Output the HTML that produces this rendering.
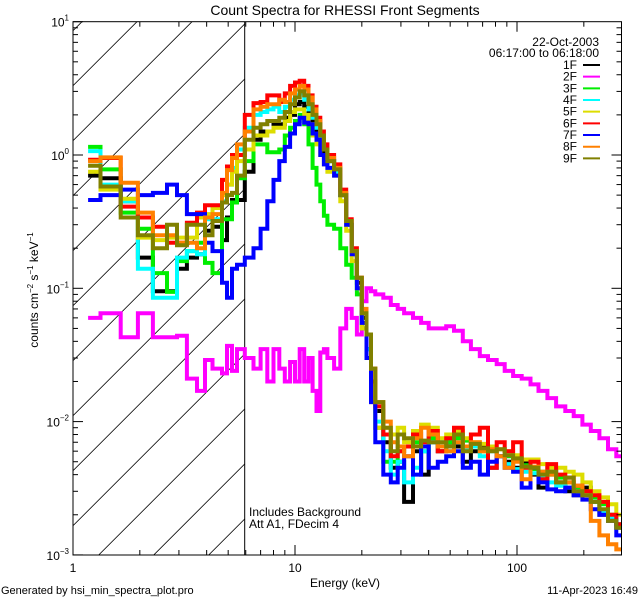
<!DOCTYPE html>
<html><head><meta charset="utf-8"><style>
html,body{margin:0;padding:0;background:#fff;}
svg{display:block;font-family:"Liberation Sans",sans-serif;}
</style></head><body>
<svg id="chart" width="640" height="600" viewBox="0 0 640 600" xmlns="http://www.w3.org/2000/svg">
<defs>
<clipPath id="plotclip"><rect x="73" y="21.7" width="548.5" height="533.3"/></clipPath>
<clipPath id="hatchclip"><rect x="73" y="21.7" width="171.7" height="533.3"/></clipPath>
</defs>
<text x="345" y="15" font-size="14" text-anchor="middle">Count Spectra for RHESSI Front Segments</text>
<g id="hatch" clip-path="url(#hatchclip)" stroke="#000" stroke-width="0.8"></g>
<line x1="244.7" y1="21.7" x2="244.7" y2="555" stroke="#000" stroke-width="1"/>
<g id="series" clip-path="url(#plotclip)"></g>
<rect x="73" y="21.7" width="548.5" height="533.3" fill="none" stroke="#000" stroke-width="1"/>
<g id="ticks" stroke="#000" stroke-width="1"></g>
<g id="ticklabels" font-size="12"></g>
<text x="345" y="587" font-size="12" text-anchor="middle">Energy (keV)</text>
<text transform="translate(38,290) rotate(-90)" font-size="12" text-anchor="middle">counts cm<tspan font-size="8" dy="-5">−2</tspan><tspan dy="5"> s</tspan><tspan font-size="8" dy="-5">−1</tspan><tspan dy="5"> keV</tspan><tspan font-size="8" dy="-5">−1</tspan></text>
<text x="249" y="516" font-size="12">Includes Background</text>
<text x="249" y="528" font-size="12">Att A1, FDecim  4</text>
<text x="599" y="46" font-size="12" text-anchor="end">22-Oct-2003</text>
<text x="599" y="57" font-size="12" text-anchor="end">06:17:00 to 06:18:00</text>
<g id="legend" font-size="12"></g>
<text x="1" y="594" font-size="11">Generated by hsi_min_spectra_plot.pro</text>
<text x="638" y="594" font-size="11" text-anchor="end">11-Apr-2023 16:49</text>
</svg>
<script>
const energyEdges = [1.17,1.33,1.64,1.96,2.29,2.65,2.94,3.26,3.62,3.93,4.25,4.69,4.94,5.2,5.48,
5.94,6.5,7,7.5,8,8.5,9,9.5,10,10.5,11,11.5,12,12.5,13,13.5,14,15,16,17,18,19,20,21,22,23,25,27,29,31,34,37,40,44,48,52,57,62,68,74,81,88,96,105,115,125,137,150,165,180,197,215,235,257,280,297];
const seriesNames = ["1F","2F","3F","4F","5F","6F","7F","8F","9F"];
const seriesColors = ["#000000","#ff00ff","#00ee00","#00ffff","#dddd00","#ff0000","#0000ff","#ff8000","#808000"];
const s1F = [0.7,0.67,0.45,0.17,0.095,0.095,0.14,0.17,0.18,0.27,0.29,0.23,0.34,0.46,0.46,
0.75,1.3,1.5,1.5,1.7,1.7,1.9,2.0,2.4,2.5,2.3,2.0,1.7,1.4,1.2,1.0,0.9,
0.75,0.5,0.3,0.18,0.11,0.06,0.035,0.02,0.012,0.007,0.0045,0.005,0.0025,0.006,0.004,0.007,0.006,0.007,0.0065,0.005,0.006,0.0065,0.0045,0.0055,0.005,0.0045,0.005,0.004,0.0032,0.0045,0.0035,0.003,0.0028,0.0032,0.0025,0.002,0.0019,0.0016];
const s2F = [0.06,0.065,0.043,0.065,0.043,0.043,0.044,0.021,0.017,0.029,0.025,0.023,0.037,0.024,0.035,
0.03,0.025,0.035,0.02,0.035,0.025,0.02,0.028,0.02,0.035,0.02,0.03,0.017,0.012,0.033,0.035,0.03,0.025,0.05,0.07,0.06,0.045,0.08,0.1,0.095,0.09,0.085,0.075,0.07,0.065,0.06,0.055,0.05,0.05,0.052,0.048,0.04,0.035,0.031,0.029,0.027,0.024,0.022,0.021,0.019,0.017,0.015,0.013,0.012,0.011,0.0095,0.0085,0.0075,0.0062,0.0055];
const s3F = [1.15,0.78,0.37,0.28,0.13,0.094,0.16,0.19,0.22,0.155,0.13,0.33,0.33,0.44,0.67,
0.9,1.2,1.2,1.05,1.05,1.1,1.4,1.6,1.8,2.0,1.7,1.2,0.8,0.6,0.45,0.35,0.3,
0.28,0.2,0.15,0.12,0.09,0.05,0.03,0.015,0.009,0.005,0.005,0.006,0.0065,0.007,0.006,0.0075,0.0065,0.007,0.0075,0.0072,0.0065,0.006,0.0062,0.0055,0.0055,0.0052,0.0047,0.0044,0.0042,0.004,0.0038,0.0035,0.0032,0.003,0.0027,0.0024,0.002,0.0017];
const s4F = [1.07,0.6,0.45,0.14,0.085,0.085,0.17,0.19,0.18,0.33,0.33,0.45,0.6,0.8,1.1,
1.6,2.0,2.1,2.2,2.3,2.1,2.3,2.6,2.8,2.9,2.6,2.2,1.9,1.6,1.3,1.1,0.9,
0.75,0.5,0.3,0.18,0.1,0.055,0.035,0.018,0.01,0.006,0.004,0.005,0.0035,0.0045,0.006,0.007,0.007,0.006,0.007,0.0062,0.0065,0.0055,0.006,0.0055,0.0048,0.0044,0.0042,0.0041,0.0038,0.0035,0.0033,0.0032,0.003,0.0028,0.0025,0.0021,0.0019,0.0016];
const s5F = [0.75,0.55,0.47,0.24,0.23,0.24,0.24,0.24,0.34,0.36,0.4,0.5,0.6,0.75,0.9,
1.1,1.4,1.4,1.5,1.6,1.6,1.8,2.1,2.2,2.2,2.0,1.7,1.4,1.2,1.0,0.85,0.75,
0.7,0.45,0.27,0.16,0.1,0.05,0.03,0.014,0.009,0.009,0.008,0.009,0.007,0.0085,0.0095,0.009,0.0075,0.008,0.0085,0.0075,0.007,0.0068,0.0065,0.0062,0.006,0.0056,0.0052,0.0052,0.0048,0.0045,0.0045,0.0042,0.004,0.0035,0.003,0.0027,0.0024,0.002];
const s6F = [0.92,0.95,0.41,0.34,0.29,0.22,0.22,0.31,0.37,0.42,0.42,0.65,0.82,1.0,1.0,
2.0,2.45,2.5,2.8,2.8,2.5,2.9,3.3,3.5,3.6,3.3,2.8,2.3,1.9,1.5,1.2,1.0,
0.85,0.55,0.33,0.2,0.12,0.065,0.045,0.025,0.013,0.008,0.0055,0.006,0.0065,0.008,0.007,0.0085,0.006,0.0075,0.009,0.0065,0.008,0.009,0.0045,0.007,0.006,0.007,0.0045,0.005,0.0037,0.0048,0.004,0.0038,0.0033,0.003,0.0028,0.0025,0.002,0.0017];
const s7F = [0.46,0.5,0.55,0.5,0.52,0.6,0.5,0.36,0.36,0.22,0.19,0.11,0.085,0.14,0.15,
0.17,0.2,0.28,0.45,0.65,0.9,1.15,1.45,1.7,1.9,1.75,1.7,1.45,1.3,1.0,0.85,0.8,
0.7,0.5,0.3,0.18,0.1,0.055,0.03,0.014,0.007,0.004,0.0035,0.0045,0.0055,0.004,0.0065,0.0045,0.005,0.0055,0.006,0.0045,0.005,0.004,0.005,0.0055,0.0045,0.0042,0.0032,0.0045,0.0035,0.0031,0.003,0.0032,0.0028,0.0026,0.0022,0.002,0.0018,0.0014];
const s8F = [0.9,0.96,0.62,0.37,0.25,0.25,0.22,0.22,0.2,0.34,0.36,0.52,0.77,0.95,1.2,
1.5,2.2,2.3,2.4,2.4,2.6,2.5,2.9,3.1,3.3,3.1,2.7,2.2,1.8,1.4,1.1,0.95,
0.8,0.52,0.32,0.19,0.12,0.07,0.045,0.025,0.014,0.01,0.007,0.0065,0.0055,0.0075,0.009,0.008,0.0065,0.006,0.007,0.0065,0.007,0.006,0.0062,0.0055,0.0045,0.005,0.0037,0.0046,0.0042,0.004,0.0035,0.0035,0.0033,0.0028,0.0018,0.0014,0.0012,0.0011];
const s9F = [0.83,0.58,0.34,0.25,0.2,0.3,0.21,0.3,0.3,0.25,0.32,0.44,0.5,0.52,0.7,
1.3,1.6,1.7,1.8,1.8,1.9,2.1,2.4,2.7,3.0,2.8,2.4,2.0,1.7,1.4,1.1,0.9,
0.78,0.5,0.32,0.19,0.12,0.065,0.045,0.025,0.014,0.009,0.006,0.008,0.0075,0.0065,0.0072,0.007,0.007,0.0065,0.008,0.006,0.0068,0.0063,0.006,0.0062,0.0056,0.0053,0.0046,0.0045,0.004,0.0042,0.0035,0.0038,0.003,0.0028,0.0025,0.0022,0.0018,0.0016];
const seriesValues = [s1F,s2F,s3F,s4F,s5F,s6F,s7F,s8F,s9F];
const drawOrder = [0,1,2,3,4,5,6,7,8];
const yTickDecades = [1,0,-1,-2,-3];
const xTickDecades = [1,10,100];

const NS = "http://www.w3.org/2000/svg";
const PL=73, PR=621.5, PT=21.7, PB=555, XDEC=222, YDEC=133.3;
function X(e){return PL + XDEC*Math.log10(e);}
function Y(v){return PT + YDEC*(1 - Math.log10(v));}
function mk(tag, attrs, parent){const el=document.createElementNS(NS,tag);for(const k in attrs)el.setAttribute(k,attrs[k]);parent.appendChild(el);return el;}

const hatch=document.getElementById('hatch');
for(let k=-3;k<16;k++){
  const c=158.7+55*k;
  const ln=mk('line',{x1:c-PT-600,y1:PT+600,x2:c-PT,y2:PT},hatch);
  
  
}

const sg=document.getElementById('series');
drawOrder.forEach(si=>{
  const vals=seriesValues[si];
  let d='';
  for(let i=0;i<vals.length;i++){
    const x0=X(energyEdges[i]).toFixed(1), x1=X(energyEdges[i+1]).toFixed(1), y=Y(vals[i]).toFixed(1);
    d += (i===0?'M':'L')+x0+','+y+'L'+x1+','+y;
  }
  const p=mk('path',{d:d,fill:'none',stroke:seriesColors[si],'stroke-width':4},sg);
  
  
});

const tg=document.getElementById('ticks');
const lg=document.getElementById('ticklabels');
for(let dec=0;dec<3;dec++){
  for(let m=1;m<10;m++){
    const e=Math.pow(10,dec)*m; const x=X(e);
    if(x>PR) break;
    const len=m===1?10:5;
    mk('line',{x1:x,y1:PB,x2:x,y2:PB-len},tg);
    mk('line',{x1:x,y1:PT,x2:x,y2:PT+len},tg);
  }
}
xTickDecades.forEach(e=>{
  const t=mk('text',{x:X(e),y:PB+17,'text-anchor':'middle'},lg);
  t.textContent=String(e);
  
  
});
for(let dec=-3;dec<1;dec++){
  for(let m=1;m<10;m++){
    const v=Math.pow(10,dec)*m; const y=Y(v);
    const len=m===1?10:5;
    mk('line',{x1:PL,y1:y,x2:PL+len,y2:y},tg);
    mk('line',{x1:PR,y1:y,x2:PR-len,y2:y},tg);
  }
}
mk('line',{x1:PL,y1:PT,x2:PL+10,y2:PT},tg);
yTickDecades.forEach(dec=>{
  const t=mk('text',{x:PL-4,y:Y(Math.pow(10,dec))+5,'text-anchor':'end'},lg);
  t.innerHTML='10<tspan font-size="8" dy="-6">'+(dec<0?'−'+(-dec):dec)+'</tspan>';
  
  
});

const leg=document.getElementById('legend');
seriesNames.forEach((n,i)=>{
  const y=65+11.67*i;
  const t=mk('text',{x:577,y:y+4,'text-anchor':'end'},leg);
  t.textContent=n;
  
  
  const l=mk('line',{x1:583,y1:y,x2:600,y2:y,stroke:seriesColors[i],'stroke-width':2},leg);
  
  
});
</script>
</body></html>
